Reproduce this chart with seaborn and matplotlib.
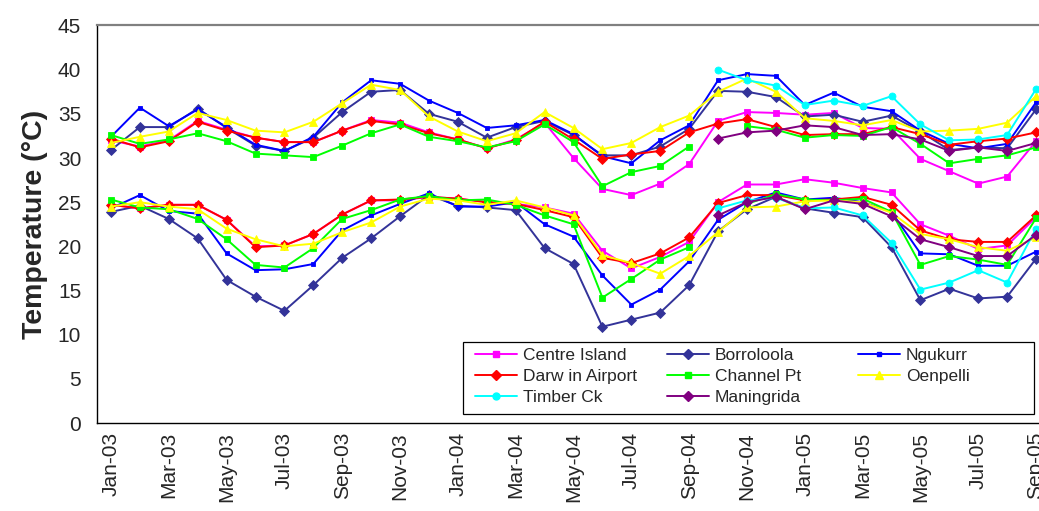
import numpy as np
import pandas as pd
import matplotlib
matplotlib.use("Agg")
import matplotlib.pyplot as plt
from matplotlib.lines import Line2D
from matplotlib.patches import Rectangle
from matplotlib.ticker import FixedLocator
import seaborn as sns

N = np.nan

months = ["Jan-03", "Feb-03", "Mar-03", "Apr-03", "May-03", "Jun-03", "Jul-03", "Aug-03",
          "Sep-03", "Oct-03", "Nov-03", "Dec-03", "Jan-04", "Feb-04", "Mar-04", "Apr-04",
          "May-04", "Jun-04", "Jul-04", "Aug-04", "Sep-04", "Oct-04", "Nov-04", "Dec-04",
          "Jan-05", "Feb-05", "Mar-05", "Apr-05", "May-05", "Jun-05", "Jul-05", "Aug-05",
          "Sep-05"]

stations = ["Centre Island", "Borroloola", "Ngukurr", "Darw in Airport",
            "Channel Pt", "Oenpelli", "Timber Ck", "Maningrida"]

# monthly mean maximum temperature (°C)
centre_island_max = [32.0, 31.3, 32.0, 34.2, 33.2, 32.3, 31.8, 31.8, 33.1, 34.3, 34.0, 32.9,
                     32.1, 31.1, 32.1, 34.0, 30.0, 26.5, 25.8, 27.1, 29.3, 34.2, 35.2, 35.1,
                     34.9, 35.1, 33.4, 33.3, 29.9, 28.5, 27.1, 27.9, 31.9]
borroloola_max = [30.9, 33.5, 33.5, 35.6, 33.4, 31.4, 30.8, 32.3, 35.2, 37.5, 37.7, 35.0,
                  34.1, 32.3, 33.5, 34.2, 32.6, 30.3, 30.3, 31.3, 33.3, 37.6, 37.5, 36.9,
                  34.7, 34.9, 34.1, 34.8, 33.0, 30.9, 31.2, 31.1, 35.5]
ngukurr_max = [32.4, 35.7, 33.6, 35.5, 33.5, 31.5, 30.8, 32.4, 36.3, 38.8, 38.4, 36.5,
               35.1, 33.4, 33.7, 34.3, 32.7, 30.2, 29.4, 32.0, 33.7, 38.8, 39.5, 39.3,
               36.0, 37.4, 35.8, 35.3, 33.1, 31.6, 31.1, 31.6, 36.3]
darwin_max = [32.2, 31.2, 31.9, 34.1, 33.1, 32.3, 31.8, 31.8, 33.1, 34.2, 33.8, 32.8,
              32.1, 31.1, 32.0, 34.1, 32.1, 29.9, 30.4, 30.8, 32.9, 33.9, 34.4, 33.5,
              32.6, 32.7, 32.7, 33.5, 32.7, 31.5, 31.9, 32.2, 32.9]
channel_pt_max = [32.6, 31.6, 32.1, 32.8, 31.9, 30.5, 30.3, 30.1, 31.4, 32.8, 33.8, 32.4,
                  31.9, 31.2, 31.9, 33.8, 31.8, 26.8, 28.4, 29.1, 31.3, N, 33.6, 33.2,
                  32.3, 32.6, 32.5, 33.5, 31.6, 29.4, 29.9, 30.3, 31.2]
oenpelli_max = [31.7, 32.4, 33.0, 35.1, 34.3, 33.1, 32.9, 34.1, 36.2, 38.3, 37.7, 34.7,
                33.0, 31.9, 32.8, 35.2, 33.4, 31.0, 31.7, 33.5, 34.8, 37.5, 39.0, 37.5,
                34.5, 34.2, 33.7, 34.3, 33.0, 33.1, 33.3, 34.0, 37.0]
timber_ck_max = [N] * 21 + [40.0, 38.8, 38.2, 36.0, 36.5, 35.9, 37.0, 33.8, 32.0, 32.1, 32.6, 37.8]
maningrida_max = [N] * 21 + [32.2, 32.9, 33.1, 33.7, 33.5, 32.6, 32.7, 32.1, 30.8, 31.2, 30.8, 31.7]

# monthly mean minimum temperature (°C)
centre_island_min = [24.7, 24.3, 24.7, 24.7, 23.0, 20.0, 20.1, 21.4, 23.6, 25.2, 25.2, 25.6,
                     25.4, 25.0, 24.8, 24.4, 23.7, 19.5, 17.5, 18.8, 20.5, 25.0, 27.0, 27.0,
                     27.6, 27.2, 26.6, 26.1, 22.5, 21.2, 19.7, 20.1, 23.3]
borroloola_min = [23.9, 24.6, 23.1, 20.9, 16.2, 14.3, 12.7, 15.6, 18.7, 20.9, 23.4, 25.8,
                  24.6, 24.4, 24.1, 19.8, 18.0, 10.9, 11.7, 12.5, 15.6, 21.7, 24.2, 25.6,
                  24.3, 23.8, 23.3, 19.9, 13.9, 15.2, 14.1, 14.3, 18.6]
ngukurr_min = [24.3, 25.8, 24.0, 23.7, 19.2, 17.3, 17.4, 18.0, 21.8, 23.5, 24.8, 26.0,
               24.5, 24.5, 25.0, 22.5, 21.1, 16.7, 13.4, 15.1, 18.3, 23.0, 25.0, 26.1,
               25.3, 25.5, 25.0, 23.9, 19.2, 19.1, 17.8, 17.8, 19.4]
darwin_min = [24.7, 24.3, 24.7, 24.7, 23.0, 19.9, 20.1, 21.4, 23.6, 25.2, 25.3, 25.6,
              25.4, 25.0, 24.8, 24.1, 23.3, 18.7, 18.1, 19.2, 21.0, 24.9, 25.8, 25.8,
              25.2, 25.3, 25.6, 24.7, 21.8, 20.8, 20.5, 20.5, 23.5]
channel_pt_min = [25.3, 24.4, 24.2, 23.1, 20.8, 17.9, 17.6, 19.8, 23.1, 24.1, 25.3, 25.7,
                  25.2, 25.3, 24.7, 23.5, 22.5, 14.2, 16.3, 18.5, 19.9, N, 24.8, 25.9,
                  25.3, 25.2, 25.4, 23.9, 17.9, 18.9, 18.5, 17.9, 23.2]
oenpelli_min = [24.5, 25.0, 24.5, 24.2, 22.0, 20.8, 20.0, 20.3, 21.6, 22.7, 24.5, 25.4,
                25.2, 24.7, 25.2, 24.4, 23.5, 19.0, 18.1, 16.9, 18.9, 21.6, 24.4, 24.5,
                25.1, 25.2, 25.0, 23.8, 21.4, 20.8, 19.9, 19.5, 21.0]
timber_ck_min = [N] * 21 + [24.3, 25.2, 25.5, 24.3, 24.4, 23.5, 20.4, 15.1, 15.9, 17.3, 15.9, 22.0]
maningrida_min = [N] * 21 + [23.5, 25.0, 25.6, 24.2, 25.2, 24.8, 23.4, 20.8, 19.9, 18.9, 18.9, 21.3]

series_max = [centre_island_max, borroloola_max, ngukurr_max, darwin_max,
              channel_pt_max, oenpelli_max, timber_ck_max, maningrida_max]
series_min = [centre_island_min, borroloola_min, ngukurr_min, darwin_min,
              channel_pt_min, oenpelli_min, timber_ck_min, maningrida_min]

colors = ["#FF00FF", "#333399", "#0000FF", "#FF0000", "#00FF00", "#FFFF00", "#00FFFF", "#800080"]
markers = ["s", "D", "s", "D", "s", "^", "o", "D"]
msizes = [4.6, 4.6, 2.6, 5.0, 4.6, 5.6, 5.0, 4.6]

sns.set_style("white")
plt.rcParams["font.family"] = ["Liberation Sans", "DejaVu Sans"]

W, H = 1039, 511
fig = plt.figure(figsize=(W / 100, H / 100), dpi=100)
ax_left, ax_right, ax_top, ax_bot = 96.5, 1050.5, 25.5, 423
ax = fig.add_axes([ax_left / W, (H - ax_bot) / H, (ax_right - ax_left) / W, (ax_bot - ax_top) / H])

x = np.arange(len(months))


def draw(vals, color, marker, ms):
    df = pd.DataFrame({"x": x, "y": np.array(vals, dtype=float)})
    df["seg"] = df["y"].isna().cumsum()
    df = df.dropna()
    for _, g in df.groupby("seg"):
        sns.lineplot(data=g, x="x", y="y", ax=ax, color=color, marker=marker,
                     markersize=ms, markeredgecolor=color, markeredgewidth=0.6,
                     linewidth=1.4, legend=False, estimator=None)


for smax, smin, c, m, ms in zip(series_max, series_min, colors, markers, msizes):
    draw(smax, c, m, ms)
    draw(smin, c, m, ms)

ax.set_xlim(-0.5, len(months) - 0.5)
ax.set_ylim(0, 45)
ax.set_yticks(np.arange(0, 46, 5))
ax.set_xticks(x[::2])
ax.set_xticklabels(months[::2], rotation=90)
ax.xaxis.set_minor_locator(FixedLocator(np.arange(-0.5, len(months), 1.0)))
ax.tick_params(axis="x", which="major", length=0, pad=6.5, labelsize=15)
ax.tick_params(axis="x", which="minor", length=5, width=0.8, direction="out", color="black")
ax.tick_params(axis="y", which="major", length=6, width=0.8, direction="out", pad=5,
               labelsize=15, color="black")
ax.set_xlabel("")
ax.set_ylabel("Temperature (°C)", fontsize=20.5, fontweight="bold", labelpad=7)

for side in ["left", "bottom"]:
    ax.spines[side].set_color("black")
    ax.spines[side].set_linewidth(1.0)
ax.spines["top"].set_color("#808080")
ax.spines["top"].set_linewidth(1.6)
ax.spines["right"].set_color("#808080")
ax.spines["right"].set_linewidth(1.6)
ax.grid(False)

# legend frame
lx0, lx1, ly0, ly1 = 463, 1034, 342, 414
fig.patches.append(Rectangle((lx0 / W, (H - ly1) / H), (lx1 - lx0) / W, (ly1 - ly0) / H,
                             transform=fig.transFigure, facecolor="white",
                             edgecolor="black", linewidth=0.9, zorder=5))

handles = [Line2D([], [], color=c, marker=m, markersize=ms, markeredgecolor=c, linewidth=1.4)
           for c, m, ms in zip(colors, markers, msizes)]
columns = [[0, 3, 6], [1, 4, 7], [2, 5]]
col_x = [475, 667, 858]
for cx, idxs in zip(col_x, columns):
    leg = fig.legend([handles[i] for i in idxs], [stations[i] for i in idxs],
                     loc="upper left", bbox_to_anchor=(cx / W, (H - 348) / H),
                     bbox_transform=fig.transFigure, frameon=False, borderpad=0,
                     borderaxespad=0, handlelength=2.42, handletextpad=0.33,
                     labelspacing=0.33, fontsize=12.5)
    leg.set_zorder(6)

fig.savefig("out.png", dpi=100, facecolor="white")
